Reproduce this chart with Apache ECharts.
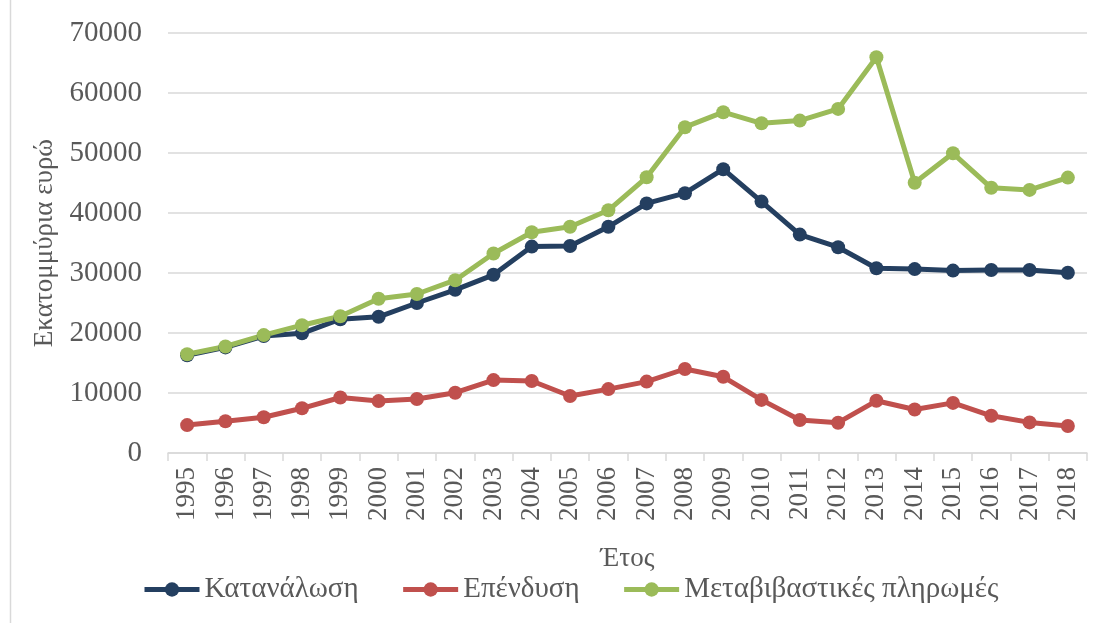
<!DOCTYPE html>
<html>
<head>
<meta charset="utf-8">
<script src="https://cdn.jsdelivr.net/npm/echarts@6/dist/echarts.min.js"></script>
<style>
  html, body { margin: 0; padding: 0; background: #fff; }
  #chart { width: 1104px; height: 623px; }
</style>
</head>
<body>
<div id="chart"></div>
<script>
// years on the x axis
const years = ["1995", "1996", "1997", "1998", "1999", "2000", "2001", "2002", "2003", "2004",
  "2005", "2006", "2007", "2008", "2009", "2010", "2011", "2012", "2013", "2014",
  "2015", "2016", "2017", "2018"];

// εκατομμύρια ευρώ
const katanalosi = [16300, 17600, 19500, 19950, 22300, 22700, 25000, 27200, 29700, 34400,
  34500, 37700, 41600, 43300, 47300, 41900, 36400, 34300, 30800, 30650,
  30400, 30500, 30500, 30050];
const ependysi = [4650, 5300, 5950, 7450, 9250, 8650, 9000, 10050, 12150, 12000,
  9500, 10650, 11900, 14000, 12700, 8850, 5500, 5050, 8700, 7250,
  8350, 6200, 5100, 4500];
const metavivastikes = [16450, 17750, 19650, 21300, 22800, 25700, 26500, 28800, 33250, 36800,
  37700, 40450, 45950, 54300, 56800, 54950, 55400, 57350, 65950, 45050,
  49950, 44200, 43850, 45900];

const textColor = "#595959";
const serif = "Liberation Serif";

function makeSeries(name, data, color) {
  return {
    name: name,
    type: "line",
    data: data,
    symbol: "circle",
    symbolSize: 14,
    lineStyle: { width: 5, color: color },
    itemStyle: { color: color },
    emphasis: { disabled: true },
  };
}

const chart = echarts.init(document.getElementById("chart"));
chart.setOption({
  animation: false,
  textStyle: { fontFamily: serif, color: textColor },
  grid: { left: 168, right: 17, top: 33, bottom: 170 },
  legend: {
    left: 137,
    top: 570,
    itemWidth: 55,
    itemHeight: 18,
    itemGap: 42,
    lineStyle: { width: 5 },
    formatter: "{t|{name}}",
    textStyle: {
      rich: { t: { fontFamily: serif, fontSize: 29, color: textColor } },
    },
    data: ["Κατανάλωση", "Επένδυση", "Μεταβιβαστικές πληρωμές"],
  },
  xAxis: {
    type: "category",
    data: years,
    boundaryGap: true,
    name: "Έτος",
    nameLocation: "middle",
    nameGap: 92,
    nameTextStyle: { fontFamily: serif, fontSize: 27, color: textColor },
    axisLine: { lineStyle: { color: "#d9d9d9", width: 1.5 } },
    axisTick: { show: true, length: 8, lineStyle: { color: "#d9d9d9", width: 1.5 } },
    axisLabel: { rotate: 90, margin: 14, fontSize: 27, color: textColor, fontFamily: serif },
  },
  yAxis: {
    type: "value",
    min: 0,
    max: 70000,
    interval: 10000,
    name: "Εκατομμύρια ευρώ",
    nameLocation: "middle",
    nameGap: 106,
    nameTextStyle: { fontFamily: serif, fontSize: 27, color: textColor },
    axisLine: { show: false },
    axisTick: { show: false },
    splitLine: { lineStyle: { color: "#d9d9d9", width: 1.5 } },
    axisLabel: {
      margin: 26, fontSize: 29, color: textColor, fontFamily: serif,
      formatter: (v) => String(v),
    },
  },
  graphic: [
    {
      type: "line",
      shape: { x1: 10.5, y1: 0, x2: 10.5, y2: 623 },
      style: { stroke: "#d9d9d9", lineWidth: 1.5 },
    },
  ],
  series: [
    makeSeries("Κατανάλωση", katanalosi, "#243f60"),
    makeSeries("Επένδυση", ependysi, "#c0504d"),
    makeSeries("Μεταβιβαστικές πληρωμές", metavivastikes, "#9bbb59"),
  ],
});
</script>
</body>
</html>
